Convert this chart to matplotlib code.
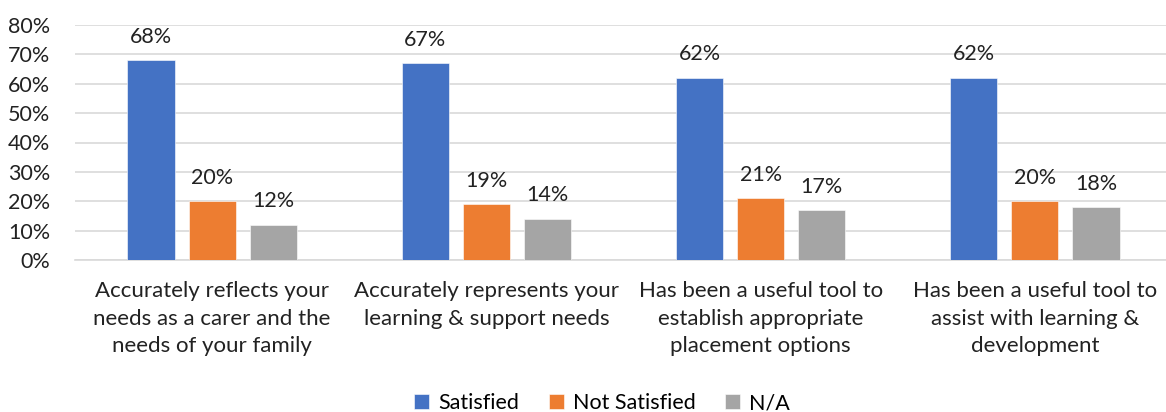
import numpy as np
import matplotlib.pyplot as plt

plt.rcParams['font.family'] = ['Lato', 'DejaVu Sans']

categories = ["Accurately reflects your\nneeds as a carer and the\nneeds of your family",
              "Accurately represents your\nlearning & support needs",
              "Has been a useful tool to\nestablish appropriate\nplacement options",
              "Has been a useful tool to\nassist with learning &\ndevelopment"]
satisfied = [68, 67, 62, 62]
not_satisfied = [20, 19, 21, 20]
na = [12, 14, 17, 18]

series = [("Satisfied", satisfied, "#4472C4"),
          ("Not Satisfied", not_satisfied, "#ED7D31"),
          ("N/A", na, "#A5A5A5")]

fig = plt.figure(figsize=(11.66, 4.12), dpi=100)
ax = fig.add_axes([75 / 1166, 1 - 260 / 412, 1097 / 1166, 235 / 412])

x = np.arange(len(categories))
w = 0.172
step = 0.223
for i, (name, vals, col) in enumerate(series):
    pos = x + (i - 1) * step
    bars = ax.bar(pos, vals, w, color=col, label=name, zorder=3,
                  edgecolor='white', linewidth=0.4)
    for p, v in zip(pos, vals):
        ax.text(p, v + 4.6, "%d%%" % v, ha='center', va='bottom',
                fontsize=15.5, color='#222222')

ax.set_xlim(-0.5, len(categories) - 0.5)
ax.set_ylim(0, 80)
ax.set_yticks(range(0, 81, 10))
ax.set_yticklabels(["%d%%" % t for t in range(0, 81, 10)])
ax.grid(axis='y', color='#d9d9d9', linewidth=1.2, zorder=0)
for s in ['top', 'right', 'left']:
    ax.spines[s].set_visible(False)
ax.spines['bottom'].set_color('#d9d9d9')
ax.spines['bottom'].set_linewidth(1.2)
ax.tick_params(axis='both', length=0, labelsize=15.5, colors='#222222')
ax.tick_params(axis='y', pad=18)
ax.set_xticks(x)
ax.set_xticklabels(categories, fontsize=16, linespacing=1.48)
ax.tick_params(axis='x', pad=15)

fig.legend(loc='center', bbox_to_anchor=(602 / 1166, 1 - 403 / 412), ncol=3,
           frameon=False, fontsize=15.5, handlelength=0.7, handleheight=0.7,
           handletextpad=0.4, columnspacing=1.4)

fig.savefig("out.png", dpi=100)
